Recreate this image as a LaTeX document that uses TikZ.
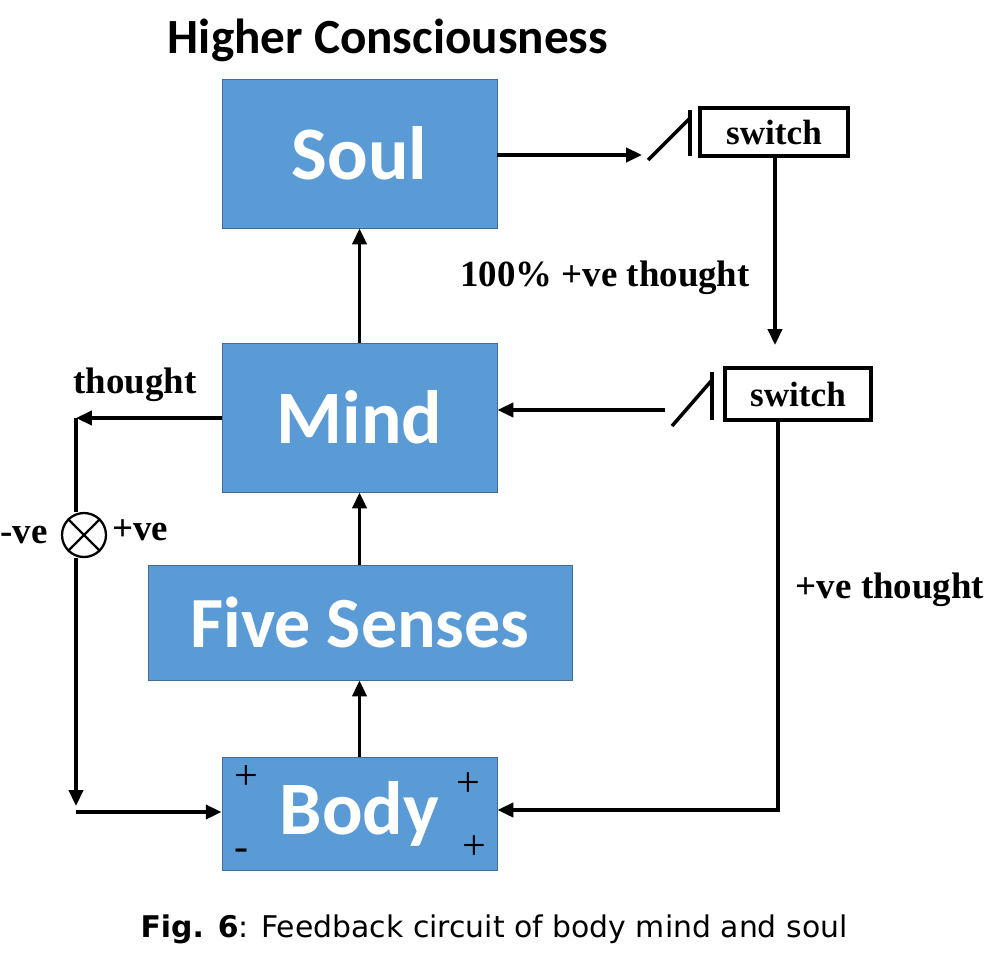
\documentclass[tikz,border=0pt]{standalone}
\usepackage{fontspec}
\setmainfont{Liberation Serif}
\newfontfamily\boxf{Carlito}
\newfontfamily\capf{DejaVu Sans}
\usetikzlibrary{arrows.meta}
\definecolor{bb}{HTML}{5B9BD5}
\begin{document}
\begin{tikzpicture}[x=0.02cm,y=-0.02cm,
 blk/.style={fill=bb,draw=bb!70!black,line width=0.5pt,text=white,font=\boxf\bfseries\fontsize{43}{46}\selectfont,inner sep=0},
 sw/.style={draw,line width=2pt,font=\bfseries\fontsize{20}{22}\selectfont,inner sep=0},
 lab/.style={font=\bfseries\fontsize{21}{24}\selectfont},
 ar/.style={line width=2pt,-{Triangle[length=9pt,width=8pt]}},
 ln/.style={line width=2pt}]
\useasboundingbox (0,0) rectangle (1007,954);
\node[font=\boxf\bfseries\fontsize{28}{30}\selectfont] (title) at (388,40) {Higher Consciousness};
\node[blk,minimum width=275*0.02cm,minimum height=149*0.02cm] (soul) at (359.5,153.5) {Soul};
\node[blk,minimum width=275*0.02cm,minimum height=149*0.02cm] (mind) at (359.5,417.5) {Mind};
\node[blk,minimum width=424*0.02cm,minimum height=115*0.02cm,font=\boxf\bfseries\fontsize{41}{44}\selectfont] (five) at (360,622.5) {Five Senses};
\node[blk,minimum width=275*0.02cm,minimum height=113*0.02cm] (body) at (359.5,813.5) {Body};
\node[sw,minimum width=148*0.02cm,minimum height=48*0.02cm] (s1) at (774,132) {switch};
\node[sw,minimum width=146*0.02cm,minimum height=52*0.02cm] (s2) at (798,394) {switch};
% switch symbols
\coordinate (s1a) at (648,160); \coordinate (s1b) at (690,118);
\draw[ln] (s1a) -- (s1b); \draw[ln] (690,110) -- (690,156);
\coordinate (s2a) at (672,426); \coordinate (s2b) at (712,380);
\draw[ln] (s2a) -- (s2b); \draw[ln] (712,372) -- (712,420);
\coordinate (s1in) at (642,155); \coordinate (s2out) at (665,410);
\draw[ar] (soul.east |- s1in) -- (s1in);
\draw[ar] (s2out) -- (mind.east |- s2out);
\draw[ar] (s1.south -| 775,0) -- (775,345);
\node[lab] (l100) at (605,278) {100\% +ve thought};
\coordinate (c1) at (778,810);
\draw[ar] (s2.south -| c1) -- (c1) -- (body.east |- c1);
\node[lab] (lpos) at (890,590) {+ve thought};
% vertical arrows
\draw[ar] (mind.north) -- (soul.south);
\draw[ar] (five.north -| mind.south) -- (mind.south);
\draw[ar] (body.north) -- (five.south -| body.north);
% left loop
\node[draw,circle,line width=1.3pt,minimum size=44*0.02cm,inner sep=0] (x) at (84,535) {};
\draw[line width=1.3pt] (x.north west) -- (x.south east) (x.north east) -- (x.south west);
\coordinate (lt) at (76,418); \coordinate (lb) at (76,812);
\draw[ar] (mind.west |- lt) -- (lt);
\draw[ln] (lt) -- (x.north -| lt);
\draw[ar] (x.south -| lt) -- (76,806);
\draw[ar] (lb) -- (body.west |- lb);
\node[lab] (lth) at (135,385) {thought};
\node[lab,anchor=west,inner sep=0] (lneg) at (0,535) {-ve};
\node[lab] (lpv) at (140,530) {+ve};
\node[font=\fontsize{24}{26}\selectfont] (p1) at (246,778) {+};
\node[font=\fontsize{24}{26}\selectfont] (p2) at (468,785) {+};
\node[font=\fontsize{24}{26}\selectfont] (p3) at (474,848) {+};
\node[font=\fontsize{24}{26}\selectfont] (m1) at (242,855) {-};
\node[font=\capf\fontsize{17}{20}\selectfont] (cap) at (494,929) {\textbf{Fig. 6}: Feedback circuit of body mind and soul};
\end{tikzpicture}
\end{document}
